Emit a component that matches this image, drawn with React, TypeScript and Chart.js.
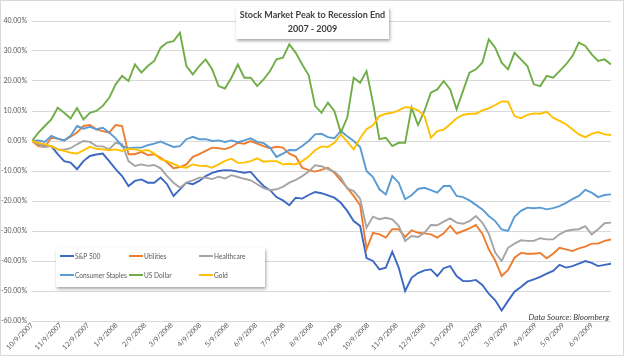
import React, { useEffect, useRef } from "react";
import { Chart, registerables } from "chart.js";

Chart.register(...registerables);

// ---------- text ----------
const titleLines = ["Stock Market Peak to Recession End", "2007 - 2009"];
const sourceNote = "Data Source: Bloomberg";

// ---------- series meta ----------
const seriesNames = ["S&P 500", "Utilities", "Healthcare", "Consumer Staples", "US Dollar", "Gold"];
const seriesColors = ["#3d68c4", "#ed7d31", "#a5a5a5", "#5b9bd5", "#70ad47", "#ffc000"];

// ---------- axis ----------
const startDate = "10/9/2007";
const endDate = "6/30/2009";
const weekStepDays = 7;
const monthTickLabels = [
  "10/9/2007", "11/9/2007", "12/9/2007", "1/9/2008", "2/9/2008", "3/9/2008", "4/9/2008",
  "5/9/2008", "6/9/2008", "7/9/2008", "8/9/2008", "9/9/2008", "10/9/2008", "11/9/2008",
  "12/9/2008", "1/9/2009", "2/9/2009", "3/9/2009", "4/9/2009", "5/9/2009", "6/9/2009",
];
const yMin = -60;
const yMax = 40;
const yStep = 10;

// ---------- weekly values (% change from 10/9/2007) ----------
const sp500 = [
  0, -0.6, -1.7, -1.7, -4.4, -6.7, -7.2, -9.4, -6.7, -5,
  -4.5, -4.2, -6.7, -9.4, -11.7, -15, -13.3, -12.8, -13.9, -13.9,
  -12.2, -14.4, -18.3, -16.1, -13.9, -14.4, -13.3, -11.7, -10.6, -10,
  -9.7, -9.8, -10.2, -10.6, -10.3, -12.8, -15, -16.4, -18.7, -19.8,
  -21.4, -18.9, -19.2, -18, -17, -17.4, -18.1, -18.9, -20.6, -23.3,
  -26.7, -28.3, -39, -40, -42.8, -42.2, -36.9, -42.2, -50, -45.6,
  -44, -43.1, -42.8, -45, -42.4, -41.7, -45, -46.7, -46.7, -46.3,
  -48, -50.9, -53.1, -56.5, -53.3, -50.2, -48.7, -46.9, -46.1, -45.3,
  -44.2, -43.3, -41.3, -42.2, -41.7, -40.9, -40, -40.6, -41.7, -41.3,
  -40.9,
];
const utilities = [
  0, -1.7, -2, 1.1, 0.8, 0.2, 1.4, 2.8, 5, 5.3,
  3.9, 3.3, 2.8, 5.3, 5, -4.4, -4.4, -3.6, -4.7, -4.4,
  -5.6, -7.2, -9.1, -8.7, -7.8, -5.3, -4.4, -3.3, -2.2, -2.4,
  -2.7, -2, -0.6, -0.9, 0, -0.9, -1.7, -2.4, -1.9, -2.2,
  -4.2, -5.2, -8.9, -9.7, -10.2, -9.6, -8.9, -10.6, -13.1, -15.6,
  -18.3, -21.4, -36, -30.6, -31.1, -32.2, -29.4, -29.4, -32, -29.8,
  -30.6, -30.8, -31.1, -32.2, -30.8, -28.3, -30.9, -30, -29.1, -28,
  -30.9, -36.1, -39.8, -45, -43, -38.9, -37.3, -37.6, -37.6, -37.3,
  -39.1, -37.6, -35.6, -36.1, -36.7, -35.8, -35.2, -34.2, -34.2, -33.3,
  -32.8,
];
const healthcare = [
  0, -1.1, -2, -1.7, -2.8, -2.9, -2.4, -1.1, 0, -0.3,
  -1.7, -1.8, -2.8, -0.6, -1, -6.7, -8.3, -7.8, -8.3, -8,
  -9.1, -11.7, -13.9, -15.6, -13.9, -13.1, -12.2, -12.2, -12.7, -11.9,
  -12.5, -11.4, -12, -12.6, -13.1, -14.4, -15.7, -16.4, -16.1, -15.3,
  -13.9, -13, -11.7, -10.2, -8.1, -8.4, -9.4, -10.2, -12.2, -15.8,
  -16.7, -19.2, -28.9, -25.2, -26.1, -25.6, -26.1, -28.3, -33.3, -31.7,
  -32, -30.6, -28, -28.1, -26.9, -25.8, -27.2, -27.6, -26.7, -25,
  -27.2, -30.9, -37.2, -40, -35.6, -34.2, -33.1, -33.3, -33.3, -32.4,
  -32.8, -32.8, -31.1, -30, -29.6, -29.4, -28.4, -31.1, -29.4, -27.4,
  -27.2,
];
const consumerStaples = [
  0, 0.2, -0.3, 1.7, 0.8, 0.2, 1.7, 5, 4.1, 4.7,
  3.9, 4.4, 2.8, 0.9, -1.7, -2.4, -2.2, -2.2, -1.4, -0.9,
  -0.2, -1.1, -2, -1.7, 0.6, 1.4, 0.6, 0.6, 0, 0.2,
  -0.3, 0.2, -0.4, 0.2, 0.9, -0.3, -0.7, -2.2, -5.3, -4.2,
  -3, -3.1, -1.7, 0, 2.2, 2.4, 1.3, 0.9, 3.3, 1.6,
  0, -2, -10, -12, -16.1, -17.8, -11.7, -13.9, -19.4, -18.1,
  -16, -15.6, -16.4, -17.2, -15, -15, -18.3, -18.7, -19.8, -21.3,
  -22.8, -25, -26.7, -29.5, -30, -25.3, -23.3, -22.2, -22.4, -22.2,
  -22.8, -22.4, -21.7, -20.6, -19.4, -18.3, -16.3, -17.2, -18.7, -18,
  -17.8,
];
const usDollar = [
  0, 2.8, 5, 7.2, 11.1, 9.4, 7.5, 11, 7.2, 9.4,
  10, 11.7, 14.4, 18.9, 21.7, 20, 25.5, 22.8, 25, 26.7,
  31.1, 32.8, 33.3, 36.1, 25, 22.2, 25, 27.2, 23.9, 18.3,
  17.5, 21.1, 25.5, 21.1, 21.1, 18.3, 20.5, 23.3, 27.2, 27.8,
  32.2, 29.4, 25.5, 22, 11.7, 9.4, 12.8, 10, 2.8, 7.8,
  21.1, 19.4, 23.3, 12.8, 0.6, 1.1, -1.7, -0.6, -0.6, 11.1,
  5.3, 10, 16.1, 17.2, 20, 17.2, 10.6, 16.7, 22.8, 23.9,
  26.1, 33.9, 31.1, 26.1, 23.9, 29.4, 27.2, 25, 18.9, 18.3,
  21.7, 21.1, 23.3, 25.5, 28.3, 32.8, 31.7, 28.9, 26.7, 27.2,
  25.5,
];
const gold = [
  0, -0.6, -1.1, -1.7, -2.8, -3.3, -3.9, -4.2, -3.1, -1.9,
  -2.6, -2.8, -3.1, -2.8, -3.3, -2.6, -2.8, -3.3, -3, -4.2,
  -6.1, -6.7, -7.6, -8.6, -8.9, -7.8, -8.3, -8.3, -8.9, -7.8,
  -6.6, -5.9, -7.3, -7.2, -6.7, -5.8, -6.9, -6.7, -6.7, -7.8,
  -7.6, -7.8, -6.7, -5.2, -3.1, -1.8, -2, -0.6, 2.2, -0.2,
  -2.8, 0.9, 3.9, 5.2, 8.3, 9.1, 9.4, 10.2, 11.3, 11.1,
  10.2, 8.3, 1.1, 3.3, 3.8, 5.6, 7.6, 8.7, 9.1, 9.1,
  10.2, 10.9, 12, 13.2, 13.1, 8.3, 7.6, 8.7, 9.2, 9.1,
  9.7, 7.8, 6.7, 5.6, 3.9, 2.2, 1.3, 2.4, 3, 2.2,
  2,
];

const seriesValues = [sp500, utilities, healthcare, consumerStaples, usDollar, gold];

// ---------- helpers ----------
const FONT = "Lato, 'Open Sans', 'Liberation Sans', sans-serif";
const dayNumber = (s: string) => {
  const [m, d, y] = s.split("/").map(Number);
  return Date.UTC(y, m - 1, d) / 86400000;
};
const day0 = dayNumber(startDate);
const lastDay = dayNumber(endDate) - day0;
const monthTickDays = monthTickLabels.map((l) => dayNumber(l) - day0);

const fitFont = (ctx: CanvasRenderingContext2D, style: string, start: number, text: string, maxW: number) => {
  let fs = start;
  ctx.font = `${style} ${fs}px ${FONT}`;
  while (ctx.measureText(text).width > maxW && fs > 5) {
    fs -= 0.25;
    ctx.font = `${style} ${fs}px ${FONT}`;
  }
};

const overlayPlugin = {
  id: "overlay",
  afterDraw(chart: any) {
    const ctx: CanvasRenderingContext2D = chart.ctx;
    const W = chart.width;
    const H = chart.height;
    ctx.save();

    // outer border
    ctx.strokeStyle = "#d9d9d9";
    ctx.lineWidth = 1;
    ctx.strokeRect(0.5, 0.5, W - 1, H - 1);

    // title box
    const tb = { x: 236, y: 7, w: 153, h: 32 };
    ctx.save();
    ctx.shadowColor = "rgba(0,0,0,0.35)";
    ctx.shadowBlur = 3;
    ctx.shadowOffsetX = 1;
    ctx.shadowOffsetY = 2;
    ctx.fillStyle = "#ffffff";
    ctx.fillRect(tb.x, tb.y, tb.w, tb.h);
    ctx.restore();
    ctx.fillStyle = "#404040";
    ctx.textAlign = "center";
    ctx.textBaseline = "middle";
    fitFont(ctx, "bold", 10.5, titleLines[0], 146);
    ctx.fillText(titleLines[0], tb.x + tb.w / 2, 15.5);
    ctx.fillText(titleLines[1], tb.x + tb.w / 2, 29.5);

    // legend box
    const lb = { x: 56, y: 248, w: 209, h: 39 };
    ctx.save();
    ctx.shadowColor = "rgba(0,0,0,0.35)";
    ctx.shadowBlur = 3;
    ctx.shadowOffsetX = 1;
    ctx.shadowOffsetY = 2;
    ctx.fillStyle = "#ffffff";
    ctx.fillRect(lb.x, lb.y, lb.w, lb.h);
    ctx.restore();
    const colX = [60, 129, 199];
    const rowY = [256, 275];
    ctx.font = `6.6px ${FONT}`;
    ctx.textAlign = "left";
    ctx.textBaseline = "middle";
    seriesNames.forEach((name, i) => {
      const cx = colX[i % 3];
      const cy = rowY[Math.floor(i / 3)];
      ctx.strokeStyle = seriesColors[i];
      ctx.lineWidth = 2;
      ctx.beginPath();
      ctx.moveTo(cx, cy);
      ctx.lineTo(cx + 14, cy);
      ctx.stroke();
      ctx.fillStyle = "#595959";
      ctx.fillText(name, cx + 15, cy + 0.5);
    });

    // data source note
    ctx.font = `italic 8px ${FONT}`;
    ctx.fillStyle = "#404040";
    ctx.textAlign = "right";
    ctx.textBaseline = "middle";
    ctx.fillText(sourceNote, 609, 317);

    ctx.restore();
  },
};

export default function App() {
  const canvasRef = useRef<HTMLCanvasElement | null>(null);

  useEffect(() => {
    if (!canvasRef.current) return;
    const xDays = sp500.map((_, k) => k * weekStepDays);
    const datasets = seriesNames.map((name, i) => ({
      label: name,
      data: xDays.map((d, k) => ({ x: d, y: seriesValues[i][k] })),
      borderColor: seriesColors[i],
      backgroundColor: seriesColors[i],
      borderWidth: 1.9,
      pointRadius: 0,
      tension: 0,
      fill: false,
      order: seriesNames.length - i,
    }));

    const chart = new Chart(canvasRef.current, {
      type: "line",
      data: { datasets },
      options: {
        responsive: false,
        maintainAspectRatio: false,
        animation: false,
        events: [],
        layout: { padding: { top: 21, right: 13, left: 0, bottom: 0 } },
        plugins: {
          legend: { display: false },
          title: { display: false },
          tooltip: { enabled: false },
        },
        scales: {
          x: {
            type: "linear",
            min: 0,
            max: lastDay,
            grid: { display: false, drawTicks: false },
            border: { display: false },
            afterBuildTicks: (s: any) => {
              s.ticks = monthTickDays.map((v) => ({ value: v }));
            },
            afterFit: (s: any) => {
              s.height = 35;
            },
            ticks: {
              autoSkip: false,
              maxRotation: 45,
              minRotation: 45,
              padding: 0,
              color: "#595959",
              font: { family: FONT, size: 7 },
              callback: (_v: any, i: number) => monthTickLabels[i],
            },
          },
          y: {
            min: yMin,
            max: yMax,
            afterFit: (s: any) => {
              s.width = 32;
            },
            grid: { color: "#d9d9d9", drawTicks: false, lineWidth: 1 },
            border: { display: false },
            ticks: {
              stepSize: yStep,
              padding: 5,
              color: "#595959",
              font: { family: FONT, size: 7 },
              callback: (v: any) => Number(v).toFixed(2) + "%",
            },
          },
        },
      },
      plugins: [overlayPlugin],
    });
    return () => chart.destroy();
  }, []);

  return (
    <div style={{ position: "fixed", left: 0, top: 0, width: 624, height: 356, background: "#ffffff" }}>
      <canvas ref={canvasRef} width={624} height={356} style={{ display: "block" }} />
    </div>
  );
}
